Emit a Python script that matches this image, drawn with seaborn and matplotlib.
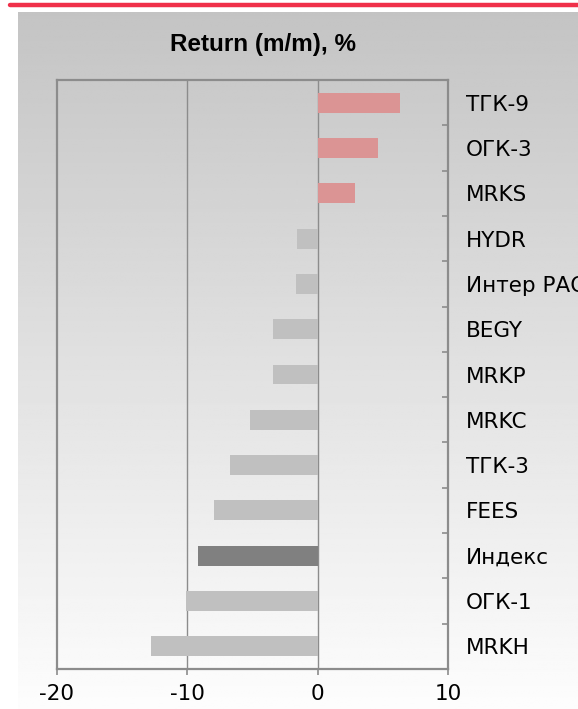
import numpy as np
import pandas as pd
import matplotlib
matplotlib.use("Agg")
import matplotlib.pyplot as plt
import seaborn as sns
from matplotlib.ticker import FixedLocator

categories = ["ТГК-9", "ОГК-3", "MRKS", "HYDR", "Интер РАО", "BEGY", "MRKP",
              "MRKC", "ТГК-3", "FEES", "Индекс", "ОГК-1", "MRKH"]
values = [6.3, 4.6, 2.9, -1.55, -1.7, -3.4, -3.4, -5.2, -6.7, -7.95, -9.2, -10.1, -12.8]
x_ticks = [-20, -10, 0, 10]
title = "Return (m/m), %"

POS = "#db9494"
NEG = "#c0c0c0"
IDX = "#808080"
colors = [IDX if c == "Индекс" else (POS if v > 0 else NEG) for c, v in zip(categories, values)]

df = pd.DataFrame({"cat": categories, "val": values})

sns.set_style("white")
plt.rcParams["font.family"] = ["DejaVu Sans"]

W, H = 578, 709
fig = plt.figure(figsize=(W / 100, H / 100), dpi=100)
fig.patch.set_facecolor("white")

# gradient background
bg = fig.add_axes([18 / W, 0, 1 - 18 / W, (H - 12) / H])
grad = np.linspace(196, 253, 256).reshape(-1, 1) / 255.0
bg.imshow(np.repeat(grad, 2, axis=1), cmap="gray", vmin=0, vmax=1, aspect="auto",
          extent=[0, 1, 0, 1], origin="upper")
bg.set_axis_off()

# red line
fig.add_artist(plt.Line2D([10 / W, 1], [1 - 5 / H, 1 - 5 / H], color="#f0304a",
                          lw=3.2, transform=fig.transFigure))

ax = fig.add_axes([57 / W, (H - 669) / H, (448 - 57) / W, (669 - 80) / H])
ax.set_facecolor("none")
sns.barplot(data=df, x="val", y="cat", hue="cat", palette=colors, legend=False,
            orient="h", width=0.44, ax=ax, saturation=1, linewidth=0, edgecolor="none")

ax.set_xlim(-20, 10)
ax.set_ylim(len(categories) - 0.5, -0.5)
ax.set_xticks(x_ticks)
ax.set_xticklabels([str(t) for t in x_ticks])
ax.set_xlabel("")
ax.set_ylabel("")

for xv in [-10, 0]:
    ax.axvline(xv, color="#8c8c8c", lw=1, zorder=0.5)

for s in ax.spines.values():
    s.set_visible(True)
    s.set_color("#8c8c8c")
    s.set_linewidth(1.6)

ax.yaxis.tick_right()
ax.tick_params(axis="y", which="major", length=0, pad=13, labelsize=15.5, labelcolor="black")
ax.yaxis.set_minor_locator(FixedLocator(np.arange(0.5, len(categories) - 1, 1.0)))
ax.tick_params(axis="y", which="minor", direction="in", length=4, width=1.2,
               color="#8c8c8c", right=True, left=False)
ax.tick_params(axis="x", which="major", direction="out", length=4, width=1.2,
               color="#8c8c8c", bottom=True, pad=7, labelsize=15.5, labelcolor="black")

fig.text(263 / W, 1 - 45 / H, title, ha="center", va="center", fontsize=17.5,
         fontweight="bold", color="black", family=["Liberation Sans", "DejaVu Sans"])

fig.savefig("out.png", dpi=100)
